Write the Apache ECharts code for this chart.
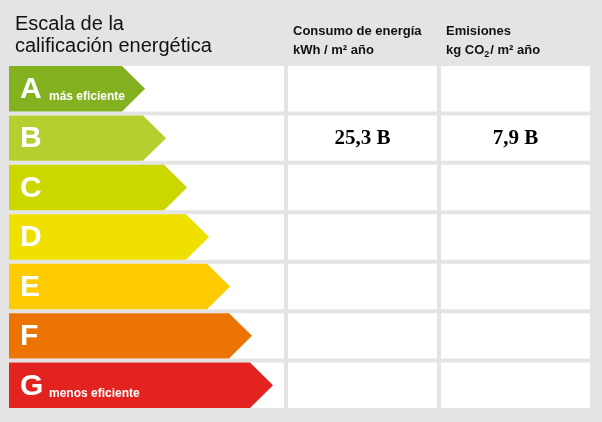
<!DOCTYPE html>
<html>
<head>
<meta charset="utf-8">
<script src="https://cdn.jsdelivr.net/npm/echarts@6/dist/echarts.min.js"></script>
<style>html,body{margin:0;padding:0;background:#e4e4e4}#c{width:602px;height:422px}</style>
</head>
<body>
<div id="c"></div>
<script>
"use strict";
// energy classes, top to bottom
const classes = ["A", "B", "C", "D", "E", "F", "G"];
const notes = ["más eficiente", "", "", "", "", "", "menos eficiente"];
const colors = ["#84b11f", "#b6cf2f", "#ccd600", "#f0e000", "#fdcb00", "#ec7404", "#e2231f"];
// arrow tip position, in px from the panel's left edge
const arrowLengths = [136, 157, 178, 200, 221, 243, 264];
// values shown in the table
const consumo = ["", "25,3 B", "", "", "", "", ""];
const emisiones = ["", "7,9 B", "", "", "", "", ""];

// column spans on the x value axis (0..581)
const cols = [[0, 275], [279, 428], [432, 581]];

const chart = echarts.init(document.getElementById("c"));
const font = "Liberation Sans, Arial, sans-serif";

chart.setOption({
  backgroundColor: "#e4e4e4",
  animation: false,
  grid: { left: 9, right: 12, top: 64, bottom: 12 },
  xAxis: { type: "value", min: 0, max: 581, show: false },
  yAxis: { type: "category", data: classes, inverse: true, show: false },
  title: [
    { text: "Escala de la\ncalificación energética", left: 10, top: 8,
      textStyle: { fontFamily: font, fontSize: 20, fontWeight: "normal", color: "#111", lineHeight: 22 } },
    { text: "Consumo de energía\nkWh / m² año", left: 288, top: 17,
      textStyle: { fontFamily: font, fontSize: 13, fontWeight: "bold", color: "#111", lineHeight: 19 } },
    { text: "Emisiones\n{n|kg CO}{s|2}{n|/ m² año}", left: 441, top: 17,
      textStyle: { fontFamily: font, fontSize: 13, fontWeight: "bold", color: "#111", lineHeight: 19,
        rich: { n: { fontSize: 13, fontWeight: "bold", fontFamily: font, color: "#111" },
                s: { fontSize: 9, fontWeight: "bold", fontFamily: font, color: "#111", padding: [8, 1, 0, 0] } } } }
  ],
  series: [
    {
      type: "custom",
      data: classes.map((c, i) => [i]),
      renderItem: (params, api) => {
        const i = api.value(0);
        const h = api.size([0, 1])[1] - 4;
        const children = cols.map((cl, k) => {
          const a = api.coord([cl[0], i]);
          const b = api.coord([cl[1], i]);
          return { type: "rect", shape: { x: a[0], y: a[1] - h / 2, width: b[0] - a[0], height: h },
            style: { fill: "#fff" } };
        });
        [consumo[i], emisiones[i]].forEach((t, k) => {
          if (!t) return;
          const a = api.coord([(cols[k + 1][0] + cols[k + 1][1]) / 2, i]);
          children.push({ type: "text", x: a[0], y: a[1],
            style: { text: t, fontFamily: "Liberation Serif, Times New Roman, serif", fontSize: 21,
              fontWeight: "bold", fill: "#000", align: "center", verticalAlign: "middle" } });
        });
        return { type: "group", children };
      }
    },
    {
      type: "custom",
      data: arrowLengths.map((v, i) => [i, v]),
      renderItem: (params, api) => {
        const i = api.value(0);
        const h = api.size([0, 1])[1] - 4;
        const x0 = api.coord([0, i]);
        const tip = api.coord([api.value(1), i]);
        const top = x0[1] - h / 2, bot = x0[1] + h / 2, mid = x0[1];
        const children = [
          { type: "polygon",
            shape: { points: [[x0[0], top], [tip[0] - 23, top], [tip[0], mid], [tip[0] - 23, bot], [x0[0], bot]] },
            style: { fill: colors[i] } },
          { type: "text", x: x0[0] + 11, y: mid + 1,
            style: { text: classes[i], fontFamily: font, fontSize: 30, fontWeight: "bold", fill: "#fff",
              verticalAlign: "middle" } }
        ];
        if (notes[i]) {
          children.push({ type: "text", x: x0[0] + 40, y: mid + 8,
            style: { text: notes[i], fontFamily: font, fontSize: 12, fontWeight: "bold", fill: "#fff",
              verticalAlign: "middle" } });
        }
        return { type: "group", children };
      }
    }
  ]
});
</script>
</body>
</html>
